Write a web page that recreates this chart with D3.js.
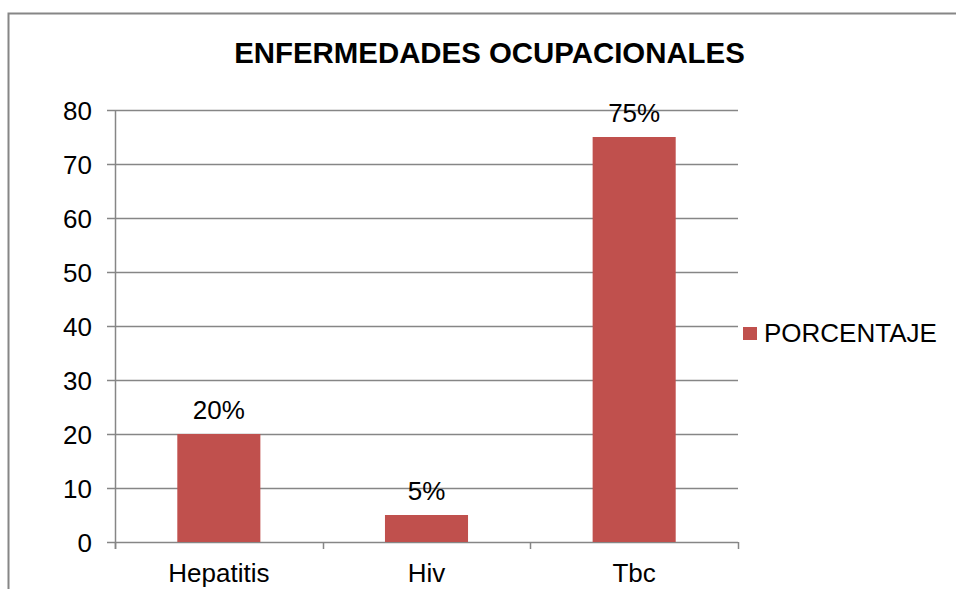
<!DOCTYPE html>
<meta charset="utf-8">
<head>
  <meta charset="utf-8">
  <script src="https://d3js.org/d3.v7.min.js"></script>
  <style>
    body { margin: 0; background: #fff; }
    svg { display: block; font-family: "Liberation Sans", Arial, sans-serif; }
  </style>
</head>
<body>
  <svg width="956" height="589"></svg>
  <script>
    // data
    var categories = ["Hepatitis", "Hiv", "Tbc"];
    var values = [20, 5, 75];
    var pctLabels = ["20%", "5%", "75%"];
    var yTicks = [0, 10, 20, 30, 40, 50, 60, 70, 80];
    var seriesName = "PORCENTAJE";

    var svg = d3.select("svg");
    var color = "#C0504D";
    var gridColor = "#868686";

    // outer frame (runs off the right and bottom edge)
    svg.append("rect")
      .attr("x", 8.5).attr("y", 13.5)
      .attr("width", 1000).attr("height", 700)
      .attr("fill", "none").attr("stroke", gridColor).attr("stroke-width", 2);

    svg.append("text")
      .attr("x", 489.5).attr("y", 63)
      .attr("text-anchor", "middle")
      .style("font-size", "29.4px").style("font-weight", "bold")
      .text("ENFERMEDADES OCUPACIONALES");

    var plot = {left: 115, right: 738, top: 110, bottom: 542};
    var x = d3.scaleBand().domain(categories).range([plot.left, plot.right]).padding(0);
    var y = d3.scaleLinear().domain([0, 80]).range([plot.bottom, plot.top]);

    // gridlines
    svg.append("g").selectAll("line")
      .data(yTicks)
      .enter().append("line")
      .attr("x1", plot.left - 8).attr("x2", plot.right)
      .attr("y1", function(d) { return Math.round(y(d)) + 0.5; })
      .attr("y2", function(d) { return Math.round(y(d)) + 0.5; })
      .attr("stroke", gridColor).attr("stroke-width", 1.5);

    // y labels
    svg.append("g").selectAll("text")
      .data(yTicks)
      .enter().append("text")
      .attr("x", 92)
      .attr("y", function(d) { return y(d) + 9.5; })
      .attr("text-anchor", "end")
      .style("font-size", "26px")
      .text(function(d) { return d; });

    // y axis line
    svg.append("line")
      .attr("x1", plot.left + 0.5).attr("x2", plot.left + 0.5)
      .attr("y1", plot.top).attr("y2", plot.bottom + 7)
      .attr("stroke", gridColor).attr("stroke-width", 1.5);

    // x tick marks at category edges
    var edges = categories.map(function(c) { return x(c); }).concat([plot.right]);
    svg.append("g").selectAll("line")
      .data(edges)
      .enter().append("line")
      .attr("x1", function(d) { return Math.round(d) + 0.5; })
      .attr("x2", function(d) { return Math.round(d) + 0.5; })
      .attr("y1", plot.bottom).attr("y2", plot.bottom + 7)
      .attr("stroke", gridColor).attr("stroke-width", 1.5);

    var barW = x.bandwidth() * 0.4;

    svg.append("g").selectAll("rect")
      .data(values)
      .enter().append("rect")
      .attr("x", function(d, i) { return x(categories[i]) + (x.bandwidth() - barW) / 2; })
      .attr("y", function(d) { return y(d); })
      .attr("width", barW)
      .attr("height", function(d) { return y(0) - y(d); })
      .attr("fill", color);

    // value labels
    svg.append("g").selectAll("text")
      .data(values)
      .enter().append("text")
      .attr("x", function(d, i) { return x(categories[i]) + x.bandwidth() / 2; })
      .attr("y", function(d) { return y(d) - 15; })
      .attr("text-anchor", "middle")
      .style("font-size", "26px")
      .text(function(d, i) { return pctLabels[i]; });

    // category labels
    svg.append("g").selectAll("text")
      .data(categories)
      .enter().append("text")
      .attr("x", function(d) { return x(d) + x.bandwidth() / 2; })
      .attr("y", 582)
      .attr("text-anchor", "middle")
      .style("font-size", "26px")
      .text(function(d) { return d; });

    // legend
    svg.append("rect")
      .attr("x", 743).attr("y", 327)
      .attr("width", 14).attr("height", 13)
      .attr("fill", color);
    svg.append("text")
      .attr("x", 764).attr("y", 342)
      .style("font-size", "26px")
      .text(seriesName);
  </script>
</body>
